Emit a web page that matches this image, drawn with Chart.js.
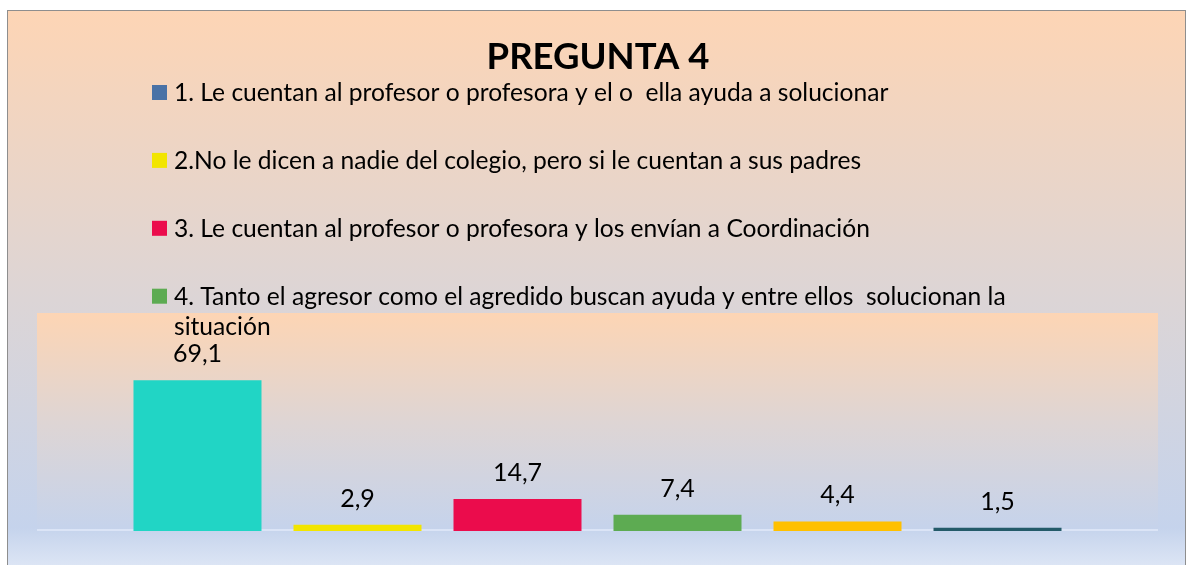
<!DOCTYPE html>
<html>
<head>
<meta charset="utf-8">
<script src="https://cdn.jsdelivr.net/npm/chart.js@4.4.1/dist/chart.umd.min.js"></script>
<style>
  body { margin: 0; background: #fff; overflow: hidden; }
  #frame {
    position: absolute; left: 7px; top: 10px; width: 1177px; height: 556px;
    border: 1px solid #8e8e8e;
    background: linear-gradient(to bottom, #fdd5b5 0%, #dcd5d6 52%, #c5d3ec 93%, #dde6f5 100%);
  }
  #chart { position: absolute; left: 0; top: 0; }
</style>
</head>
<body>
<div id="frame"></div>
<canvas id="chart" width="1186" height="565"></canvas>
<script>
const titleText = 'PREGUNTA 4';
const categories = [''];
const seriesNames = [
    '1. Le cuentan al profesor o profesora y el o  ella ayuda a solucionar',
    '2.No le dicen a nadie del colegio, pero si le cuentan a sus padres',
    '3. Le cuentan al profesor o profesora y los envían a Coordinación',
    '4. Tanto el agresor como el agredido buscan ayuda y entre ellos  solucionan la situación',
    '5.',
    '6.'
];
const seriesValues = [69.1, 2.9, 14.7, 7.4, 4.4, 1.5];
const barColors = ['#21d5c5', '#f2e500', '#eb0c4c', '#5dab52', '#ffc000', '#235a69'];
const legendColors = ['#4a72a6', '#f2e500', '#eb0c4c', '#5dab52'];

const FONT = 'Lato, "Open Sans", sans-serif';

// excel-like pieces: plot background, baseline, value labels, title, legend
const decor = {
    id: 'decor',
    beforeDatasetsDraw(chart) {
        const { ctx, chartArea: a } = chart;
        const g = ctx.createLinearGradient(0, a.top, 0, a.bottom);
        g.addColorStop(0, '#fdd5b4');
        g.addColorStop(0.5, '#ded5d4');
        g.addColorStop(1, '#c5d3ec');
        ctx.save();
        ctx.fillStyle = g;
        ctx.fillRect(a.left, a.top, a.right - a.left, a.bottom - a.top);
        ctx.strokeStyle = '#dbe4f6';
        ctx.lineWidth = 2;
        ctx.beginPath();
        ctx.moveTo(a.left, a.bottom - 1);
        ctx.lineTo(a.right, a.bottom - 1);
        ctx.stroke();
        ctx.restore();
    },
    afterDatasetsDraw(chart) {
        const { ctx } = chart;
        ctx.save();
        ctx.fillStyle = '#000';
        ctx.font = '25px ' + FONT;
        ctx.textAlign = 'center';
        ctx.textBaseline = 'alphabetic';
        chart.data.datasets.forEach((ds, i) => {
            const bar = chart.getDatasetMeta(i).data[0];
            ctx.fillText(ds.data[0].toFixed(1).replace('.', ','), bar.x, bar.y - 18);
        });
        ctx.restore();
    },
    afterDraw(chart) {
        const { ctx } = chart;
        ctx.save();
        ctx.fillStyle = '#000';
        ctx.textBaseline = 'alphabetic';
        ctx.textAlign = 'center';
        ctx.font = 'bold 36.5px ' + FONT;
        ctx.fillText(titleText, 598, 69);

        ctx.textAlign = 'left';
        ctx.font = '24.6px ' + FONT;
        const maxW = 880;
        legendColors.forEach((col, i) => {
            const base = 101 + i * 67.9;
            ctx.fillStyle = col;
            ctx.fillRect(152, base - 16, 15, 15);
            ctx.fillStyle = '#000';
            // wrap long names like the excel legend does
            const words = seriesNames[i].split(' ');
            let line = '', lines = [];
            words.forEach(w => {
                const test = line ? line + ' ' + w : w;
                if (ctx.measureText(test).width > maxW && line) {
                    lines.push(line);
                    line = w;
                } else line = test;
            });
            lines.push(line);
            lines.forEach((l, j) => ctx.fillText(l, 174, base + j * 30));
        });
        ctx.restore();
    }
};

new Chart(document.getElementById('chart'), {
    type: 'bar',
    data: {
        labels: categories,
        datasets: seriesValues.map((v, i) => ({
            label: seriesNames[i],
            data: [v],
            backgroundColor: barColors[i],
            categoryPercentage: 0.8564,
            barPercentage: 0.8
        }))
    },
    options: {
        responsive: false,
        animation: false,
        layout: { padding: { left: 37, right: 28, top: 313, bottom: 34 } },
        scales: {
            x: { display: false },
            y: { display: false, min: 0, max: 100 }
        },
        plugins: {
            legend: { display: false },
            tooltip: { enabled: false }
        }
    },
    plugins: [decor]
});
</script>
</body>
</html>
